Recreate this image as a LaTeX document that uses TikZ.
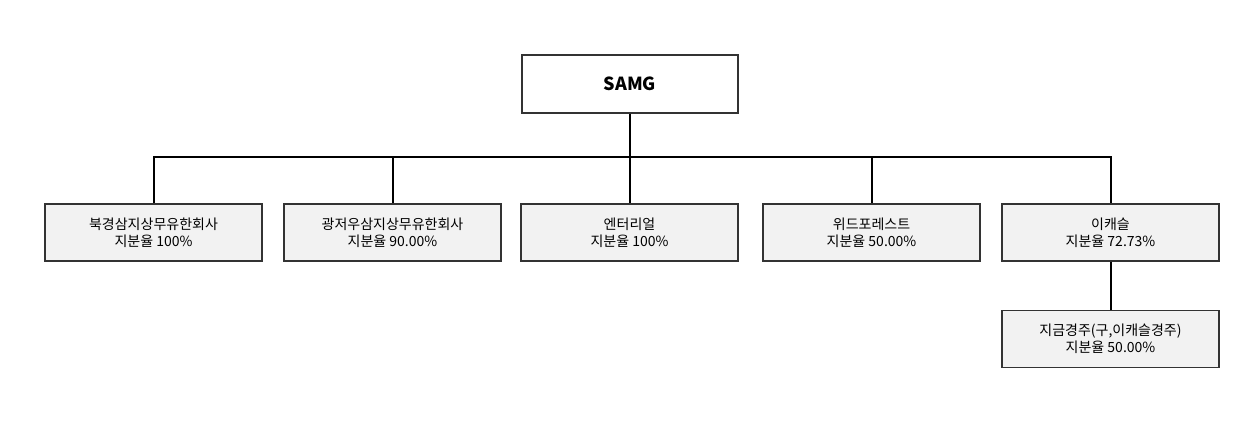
\documentclass[tikz,border=0pt]{standalone}
\usepackage{fontspec}
\setmainfont{Noto Sans CJK KR}
\begin{document}
\begin{tikzpicture}[x=0.75pt,y=-0.75pt,
  box/.style={draw=black!80,line width=0.8pt,fill=black!5,minimum width=162.75pt,minimum height=42.75pt,inner sep=0pt,align=center,font=\fontsize{10.5}{13}\selectfont},
  top/.style={draw=black!80,line width=0.8pt,fill=white,minimum width=162pt,minimum height=43.5pt,font=\fontsize{13.5}{16}\selectfont\bfseries},
  link/.style={line width=1.5pt,black}]
\useasboundingbox (0,0) rectangle (1256,434);
\node[top] (r) at (630,84) {SAMG};
\node[box] (a) at (153.5,232.5) {북경삼지상무유한회사\\지분율 100\%};
\node[box] (b) at (392.5,232.5) {광저우삼지상무유한회사\\지분율 90.00\%};
\node[box] (c) at (629.5,232.5) {엔터리얼\\지분율 100\%};
\node[box] (d) at (871.5,232.5) {위드포레스트\\지분율 50.00\%};
\node[box] (e) at (1110.5,232.5) {이캐슬\\지분율 72.73\%};
\node[box] (f) at (1110.5,339) {지금경주(구,이캐슬경주)\\지분율 50.00\%};
\coordinate (bus) at (630,157);
\draw[link] (r.south) -- (bus);
\foreach \n in {a,b,c,d,e} \draw[link] (bus) -| (\n.north);
\draw[link] (e.south) -- (f.north);
\end{tikzpicture}
\end{document}
